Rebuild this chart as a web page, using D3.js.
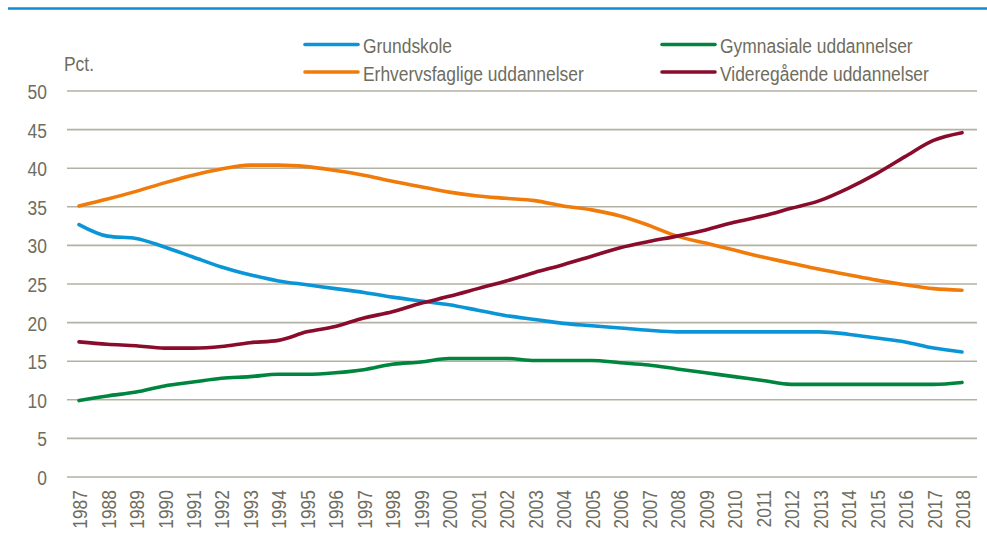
<!DOCTYPE html>
<html>
<head>
<meta charset="utf-8">
<script src="https://cdn.jsdelivr.net/npm/d3@7"></script>
<style>
  html, body { margin: 0; padding: 0; background: #ffffff; }
  svg { display: block; }
  text { font-family: "Liberation Sans Narrow", "Arial Narrow", "Liberation Sans", Arial, sans-serif; fill: #6e6d60; }
</style>
</head>
<body>
<svg id="chart" width="987" height="539"></svg>
<script>
const years = d3.range(1987, 2019).map(String);
const yTicks = [0, 5, 10, 15, 20, 25, 30, 35, 40, 45, 50];
const seriesNames = ["Grundskole", "Erhvervsfaglige uddannelser", "Gymnasiale uddannelser", "Videregående uddannelser"];
const grundskole = [32.7, 31.2, 30.9, 29.8, 28.5, 27.2, 26.2, 25.4, 24.9, 24.4, 23.9, 23.3, 22.8, 22.3, 21.6, 20.9, 20.4, 19.9, 19.6, 19.3, 19.0, 18.8, 18.8, 18.8, 18.8, 18.8, 18.8, 18.5, 18.0, 17.5, 16.7, 16.2];
const erhvervsfaglige = [35.1, 36.0, 37.0, 38.1, 39.1, 39.9, 40.4, 40.4, 40.2, 39.7, 39.1, 38.3, 37.6, 36.9, 36.4, 36.1, 35.8, 35.1, 34.6, 33.8, 32.6, 31.2, 30.3, 29.4, 28.5, 27.7, 26.9, 26.2, 25.5, 24.9, 24.4, 24.2];
const gymnasiale = [9.9, 10.5, 11.0, 11.8, 12.3, 12.8, 13.0, 13.3, 13.3, 13.5, 13.9, 14.6, 14.9, 15.35, 15.35, 15.35, 15.1, 15.1, 15.1, 14.8, 14.5, 14.0, 13.5, 13.0, 12.5, 12.0, 12.0, 12.0, 12.0, 12.0, 12.0, 12.25];
const videregaaende = [17.5, 17.2, 17.0, 16.7, 16.7, 16.9, 17.4, 17.7, 18.8, 19.5, 20.6, 21.4, 22.5, 23.4, 24.4, 25.4, 26.5, 27.5, 28.6, 29.7, 30.5, 31.2, 32.0, 33.0, 33.8, 34.8, 35.8, 37.4, 39.3, 41.5, 43.6, 44.6];
const colors = ["#0a96d6", "#f07b0a", "#00853e", "#8a0c2c"];
const allSeries = [grundskole, erhvervsfaglige, gymnasiale, videregaaende];

const FONT = '"Liberation Sans Narrow", "Arial Narrow", "Liberation Sans", Arial, sans-serif';
const SX = 0.83; // horizontal condensing of text
const TXT = "#6e6d60";

const svg = d3.select("#chart");

// top rule
svg.append("line").attr("x1", 8).attr("x2", 987).attr("y1", 8.5).attr("y2", 8.5)
  .attr("stroke", "#0a8fd0").attr("stroke-width", 2.5);

const x = d3.scalePoint().domain(years).range([79, 962]);
const y = d3.scaleLinear().domain([0, 50]).range([477, 91]);

// gridlines
svg.append("g").selectAll("line").data(yTicks).join("line")
  .attr("x1", 67).attr("x2", 977)
  .attr("y1", d => y(d)).attr("y2", d => y(d))
  .attr("stroke", "#b3b1a4").attr("stroke-width", 1.6);

// y axis
const yAxis = svg.append("g").attr("transform", "translate(47,0)")
  .call(d3.axisLeft(y).tickValues(yTicks).tickSize(0).tickPadding(0));
yAxis.select(".domain").remove();
yAxis.selectAll("text").attr("font-size", 21).attr("dy", "0.36em")
  .attr("transform", `scale(${SX},1)`)
  .style("font-family", FONT).attr("fill", TXT);

// x axis
const xAxis = svg.append("g").attr("transform", "translate(0,490)")
  .call(d3.axisBottom(x).tickSize(0).tickPadding(0));
xAxis.select(".domain").remove();
xAxis.selectAll("text")
  .attr("transform", `rotate(-90) scale(${SX},1)`)
  .attr("text-anchor", "end")
  .attr("x", 0).attr("y", 0).attr("dy", "0.36em")
  .attr("font-size", 21)
  .style("font-family", FONT).attr("fill", TXT);

// Pct label
svg.append("text").attr("transform", `translate(64,71) scale(${SX},1)`).attr("font-size", 21).text("Pct.");

// lines
const line = d3.line().x((d, i) => x(years[i])).y(d => y(d)).curve(d3.curveMonotoneX);
svg.append("g").selectAll("path").data(allSeries).join("path")
  .attr("d", d => line(d))
  .attr("fill", "none")
  .attr("stroke", (d, i) => colors[i])
  .attr("stroke-width", 3.6)
  .attr("stroke-linecap", "round")
  .attr("stroke-linejoin", "round");

// legend
const legendPos = [
  { lx: 305, ly: 44.5 },
  { lx: 305, ly: 72 },
  { lx: 662, ly: 44.5 },
  { lx: 662, ly: 72 }
];
const lg = svg.append("g").selectAll("g").data(seriesNames).join("g")
  .attr("transform", (d, i) => `translate(${legendPos[i].lx},${legendPos[i].ly})`);
lg.append("line").attr("x1", 0).attr("x2", 53).attr("y1", 0).attr("y2", 0)
  .attr("stroke", (d, i) => colors[i]).attr("stroke-width", 3.6).attr("stroke-linecap", "round");
lg.append("text").attr("transform", `translate(58,8.5) scale(${SX},1)`).attr("font-size", 21).text(d => d);
</script>
</body>
</html>
